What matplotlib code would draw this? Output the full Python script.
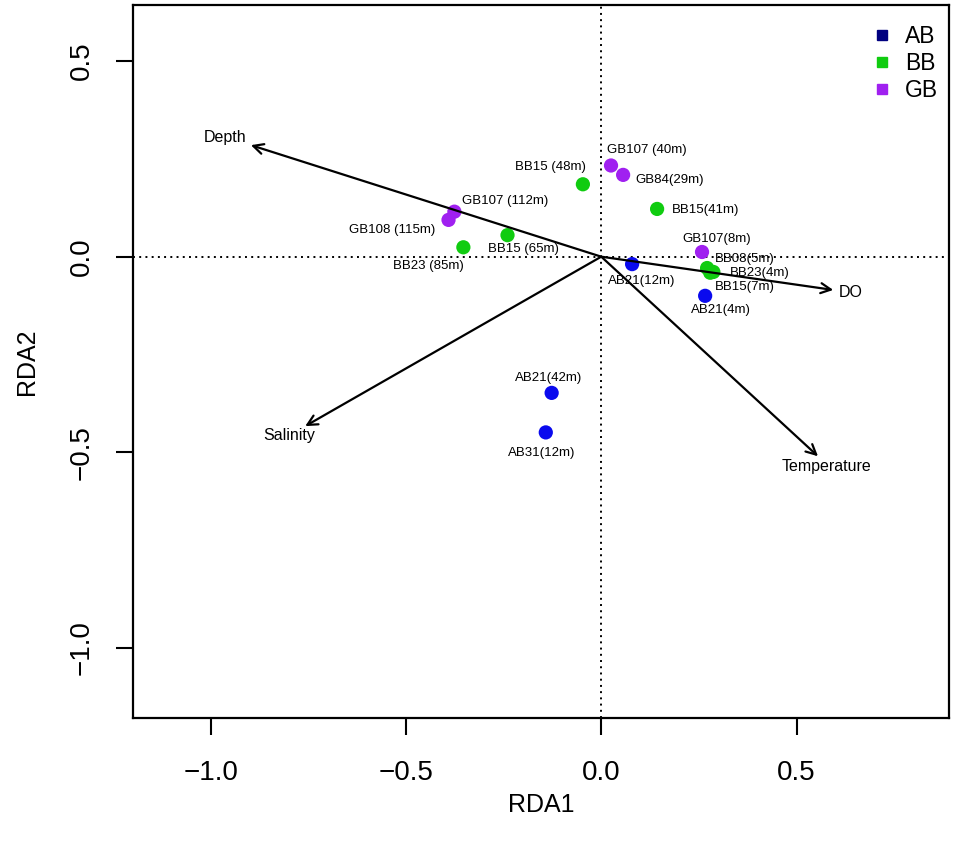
import matplotlib
matplotlib.use('Agg')
import matplotlib.pyplot as plt
from matplotlib.lines import Line2D

plt.rcParams['font.family'] = ['Liberation Sans', 'DejaVu Sans']

# site scores (RDA1, RDA2)
site_labels = ['GB107 (40m)', 'GB84(29m)', 'BB15 (48m)', 'BB15(41m)', 'GB107 (112m)',
               'GB108 (115m)', 'BB15 (65m)', 'BB23 (85m)', 'AB21(12m)', 'GB107(8m)',
               'BB08(5m)', 'BB23(4m)', 'BB15(7m)', 'AB21(4m)', 'AB21(42m)', 'AB31(12m)']
site_group = ['GB', 'GB', 'BB', 'BB', 'GB', 'GB', 'BB', 'BB', 'AB', 'GB',
              'BB', 'BB', 'BB', 'AB', 'AB', 'AB']
rda1 = [0.025, 0.056, -0.047, 0.143, -0.376, -0.391, -0.240, -0.353, 0.079, 0.258,
        0.271, 0.287, 0.279, 0.266, -0.127, -0.142]
rda2 = [0.233, 0.209, 0.185, 0.122, 0.115, 0.094, 0.055, 0.024, -0.019, 0.012,
        -0.029, -0.039, -0.041, -0.100, -0.348, -0.449]

# environmental vectors
env_names = ['Depth', 'DO', 'Salinity', 'Temperature']
env_rda1 = [-0.897, 0.594, -0.758, 0.555]
env_rda2 = [0.285, -0.085, -0.433, -0.510]

groups = ['AB', 'BB', 'GB']
group_colors = {'AB': '#0a0aee', 'BB': '#10cc10', 'GB': '#a020f0'}
legend_colors = {'AB': '#000080', 'BB': '#10cc10', 'GB': '#a020f0'}

xticks = [-1.0, -0.5, 0.0, 0.5]
xticklabels = ['\u22121.0', '\u22120.5', '0.0', '0.5']
yticks = [0.5, 0.0, -0.5, -1.0]
yticklabels = ['0.5', '0.0', '\u22120.5', '\u22121.0']

# label offsets in pixels (right, up)
site_off = [(36, 15), (47, -5), (-32, 17), (48, -1), (51, 11), (-56, -10), (16, -14),
            (-35, -19), (10, -17), (15, 13), (38, 9), (46, -1), (35, -14), (16, -14),
            (-3, 15), (-4, -21)]
env_off = [(-26, 8), (17, -3), (-16, -9), (8, -10)]

fig = plt.figure(figsize=(9.55, 8.52), dpi=100)
ax = fig.add_axes([0.1396, 0.1576, 0.994 - 0.1396, 0.9941 - 0.1576])

ax.axhline(0, color='black', lw=1.4, ls=(0, (1, 2.2)), zorder=1)
ax.axvline(0, color='black', lw=1.4, ls=(0, (1, 2.2)), zorder=1)

for name, x, y, off in zip(env_names, env_rda1, env_rda2, env_off):
    ax.annotate('', xy=(x, y), xytext=(0, 0),
                arrowprops=dict(arrowstyle='->', lw=1.6, color='black',
                                mutation_scale=18, shrinkA=0, shrinkB=0), zorder=3)
    ax.annotate(name, xy=(x, y), xytext=off, textcoords='offset pixels',
                ha='center', va='center', fontsize=11.5, zorder=4)

for g in groups:
    xs = [x for x, gg in zip(rda1, site_group) if gg == g]
    ys = [y for y, gg in zip(rda2, site_group) if gg == g]
    ax.scatter(xs, ys, s=105, color=group_colors[g], edgecolors='none', zorder=2)

for lab, x, y, off in zip(site_labels, rda1, rda2, site_off):
    ax.annotate(lab, xy=(x, y), xytext=off, textcoords='offset pixels',
                ha='center', va='center', fontsize=9.5, zorder=4)

ax.set_xlim(-1.198, 0.891)
ax.set_ylim(-1.178, 0.643)
ax.set_xticks(xticks)
ax.set_xticklabels(xticklabels, fontsize=20)
ax.set_yticks(yticks)
ax.set_yticklabels(yticklabels, fontsize=20, rotation=90, va='center')
ax.tick_params(direction='out', length=12.5, width=1.5)
ax.tick_params(axis='x', pad=18)
ax.tick_params(axis='y', pad=15)
for sp in ax.spines.values():
    sp.set_linewidth(1.6)

ax.set_xlabel('RDA1', fontsize=18, labelpad=5)
ax.set_ylabel('RDA2', fontsize=18, labelpad=22)

handles = [Line2D([], [], marker='s', ls='none', markersize=7.5,
                  color=legend_colors[g]) for g in groups]
ax.legend(handles, groups, loc='upper right', frameon=False, fontsize=16.5,
          handlelength=0.8, handletextpad=0.6, labelspacing=0.18,
          borderaxespad=0.0, bbox_to_anchor=(0.998, 0.985))

fig.savefig('out.png', dpi=100)
